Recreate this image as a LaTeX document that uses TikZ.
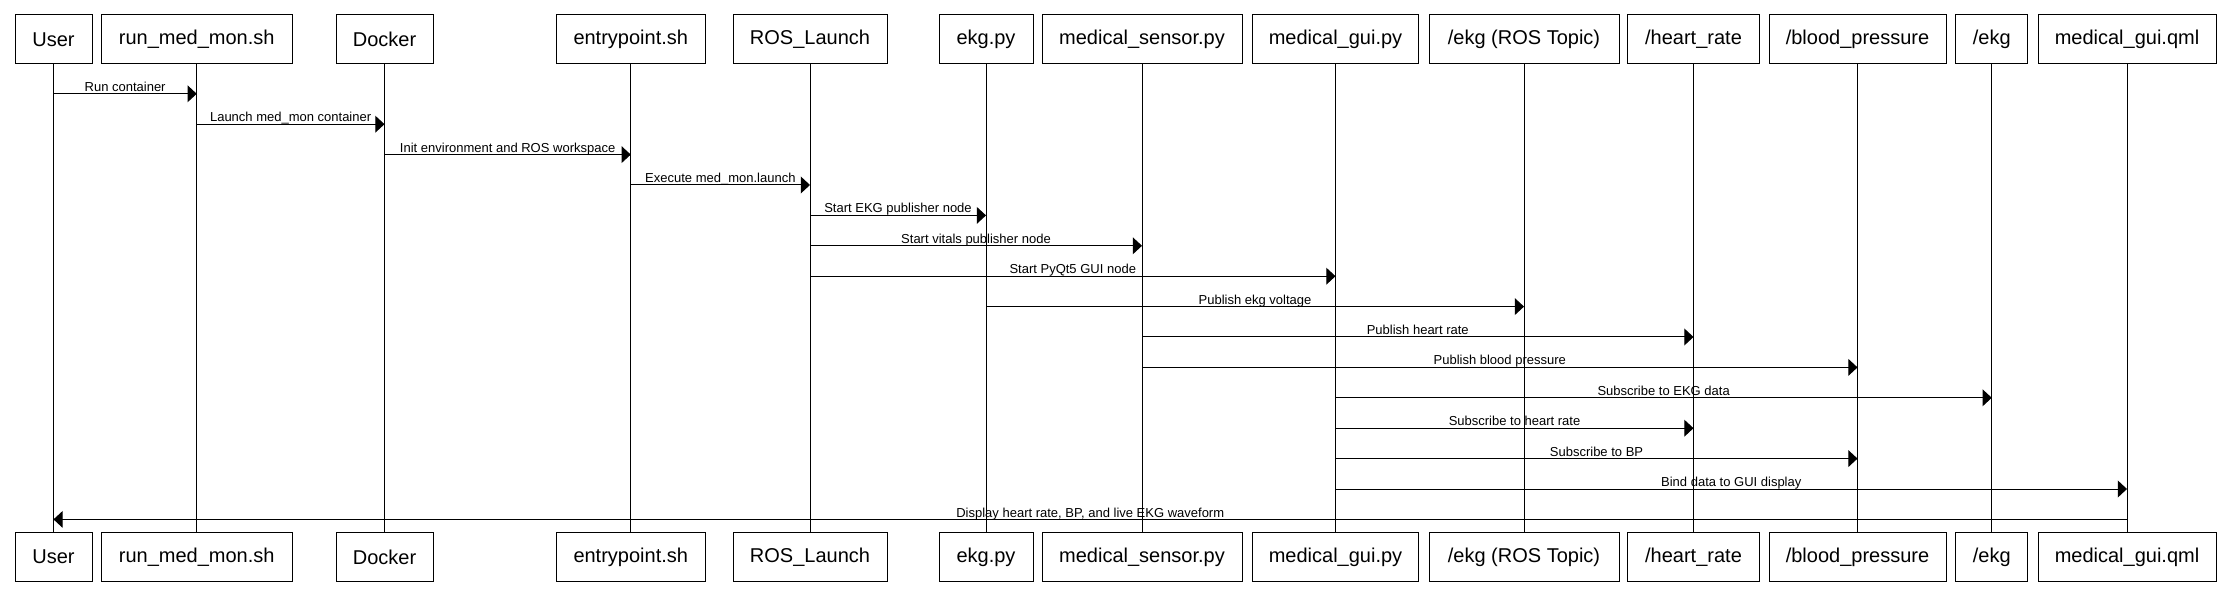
\documentclass[tikz,border=0pt]{standalone}
\usepackage{fontspec}
\setmainfont{Liberation Sans}
\usetikzlibrary{arrows.meta}
\begin{document}
\begin{tikzpicture}[x=0.5pt,y=-0.5pt,
  actor/.style={draw, line width=0.5pt, minimum height=24.5pt, inner sep=0pt, font=\fontsize{10}{12}\selectfont},
  life/.style={line width=0.5pt},
  msg/.style={line width=0.5pt, -{Triangle[length=4.6pt,width=8.4pt]}},
  lbl/.style={font=\fontsize{6.5}{8}\selectfont, inner sep=0pt, anchor=base, midway, yshift=1.2pt}]
\useasboundingbox (0,0) rectangle (2230,592);
% actors: name, center x, width
\foreach \n/\cx/\w/\t in {
  user/53.5/77/User,
  run/196.75/190.5/run\_med\_mon.sh,
  dock/384.5/97/Docker,
  entry/630.75/149.5/entrypoint.sh,
  ros/810/154/ROS\_Launch,
  ekg/986/94/ekg.py,
  sens/1142/200/medical\_sensor.py,
  gui/1335.5/166/medical\_gui.py,
  topic/1524/190/{/ekg (ROS Topic)},
  hr/1693.5/131.5/{/heart\_rate},
  bp/1857.5/177/{/blood\_pressure},
  ekgt/1991.75/72/{/ekg},
  qml/2127/178/medical\_gui.qml}{
  \node[actor, minimum width=\w*0.5pt] (t\n) at (\cx,39.5) {\t};
  \node[actor, minimum width=\w*0.5pt] (b\n) at (\cx,557) {\t};
  \draw[life] (t\n) -- (b\n);
}
% message rows
\foreach \i in {1,...,15}{
  \coordinate (r\i) at (0,{93.8+(\i-1)*30.4});
}
\draw[msg] (tuser |- r1) -- node[lbl]{Run container} (trun |- r1);
\draw[msg] (trun |- r2) -- node[lbl]{Launch med\_mon container} (tdock |- r2);
\draw[msg] (tdock |- r3) -- node[lbl]{Init environment and ROS workspace} (tentry |- r3);
\draw[msg] (tentry |- r4) -- node[lbl]{Execute med\_mon.launch} (tros |- r4);
\draw[msg] (tros |- r5) -- node[lbl]{Start EKG publisher node} (tekg |- r5);
\draw[msg] (tros |- r6) -- node[lbl]{Start vitals publisher node} (tsens |- r6);
\draw[msg] (tros |- r7) -- node[lbl]{Start PyQt5 GUI node} (tgui |- r7);
\draw[msg] (tekg |- r8) -- node[lbl]{Publish ekg voltage} (ttopic |- r8);
\draw[msg] (tsens |- r9) -- node[lbl]{Publish heart rate} (thr |- r9);
\draw[msg] (tsens |- r10) -- node[lbl]{Publish blood pressure} (tbp |- r10);
\draw[msg] (tgui |- r11) -- node[lbl]{Subscribe to EKG data} (tekgt |- r11);
\draw[msg] (tgui |- r12) -- node[lbl]{Subscribe to heart rate} (thr |- r12);
\draw[msg] (tgui |- r13) -- node[lbl]{Subscribe to BP} (tbp |- r13);
\draw[msg] (tgui |- r14) -- node[lbl]{Bind data to GUI display} (tqml |- r14);
\draw[msg] (tqml |- r15) -- node[lbl]{Display heart rate, BP, and live EKG waveform} (tuser |- r15);
\end{tikzpicture}
\end{document}
